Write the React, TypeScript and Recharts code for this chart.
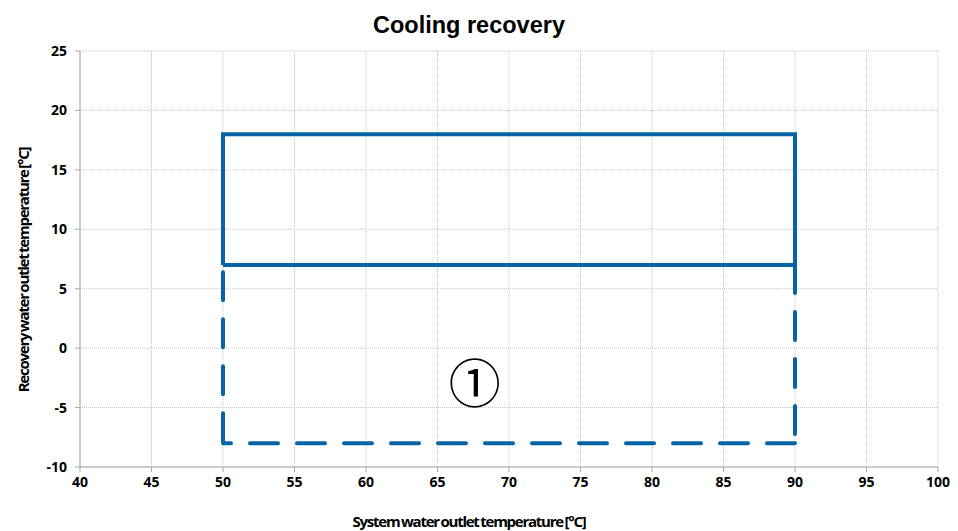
import React from 'react';
import { LineChart, Line, XAxis, YAxis, CartesianGrid, ReferenceDot } from 'recharts';

const xTicks = [40, 45, 50, 55, 60, 65, 70, 75, 80, 85, 90, 95, 100];
const yTicks = [-10, -5, 0, 5, 10, 15, 20, 25];

const solidEnvelope = [
  { x: 50, y: 7 },
  { x: 50, y: 18 },
  { x: 90, y: 18 },
  { x: 90, y: 7 },
  { x: 50, y: 7 },
];

const dashedLeft = [
  { x: 50, y: 7 },
  { x: 50, y: -8 },
];
const dashedBottom = [
  { x: 50, y: -8 },
  { x: 90, y: -8 },
];
const dashedRight = [
  { x: 90, y: 7 },
  { x: 90, y: -8 },
];

const zoneLabel = { x: 67.6, y: -2.7, text: '①' };

const BLUE = '#0563a6';
const tickStyle = { fontFamily: '"Open Sans", sans-serif', fontWeight: 700, fontSize: 14, fill: '#000' };
const axisLabelStyle = {
  fontFamily: '"Open Sans", sans-serif',
  fontWeight: 700,
  fontSize: 15,
  fill: '#000',
  letterSpacing: -1.25,
  wordSpacing: -1,
};

const ZoneLabel = (props: any) => {
  const { cx, cy } = props;
  return (
    <text x={cx} y={cy} textAnchor="middle" dominantBaseline="central" fontFamily='"Noto Sans CJK JP", sans-serif' fontSize={52} fill="#000">
      {zoneLabel.text}
    </text>
  );
};

const dashedProps = {
  dataKey: 'y',
  stroke: BLUE,
  strokeWidth: 4,
  strokeDasharray: '28 19',
  strokeLinecap: 'round' as const,
  dot: false,
  activeDot: false,
  type: 'linear' as const,
  isAnimationActive: false,
};

export default function App() {
  return (
    <div style={{ position: 'absolute', left: 0, top: 0, width: 958, height: 531, background: '#fff' }}>
      <div
        style={{
          position: 'absolute',
          left: 0,
          width: 938,
          top: 10,
          textAlign: 'center',
          fontFamily: '"Liberation Sans", Arial, sans-serif',
          fontWeight: 700,
          fontSize: 23.5,
          color: '#000',
          lineHeight: '30px',
        }}
      >
        Cooling recovery
      </div>
      <LineChart width={958} height={531} margin={{ top: 51, right: 20, bottom: 0, left: 0 }}>
        <CartesianGrid stroke="#c4c4c4" strokeDasharray="1 1" />
        <XAxis
          type="number"
          dataKey="x"
          domain={[40, 100]}
          ticks={xTicks}
          allowDuplicatedCategory={false}
          height={64}
          tickSize={5}
          tickMargin={5}
          stroke="#a6a6a6"
          tick={tickStyle}
          label={{
            value: 'System water outlet temperature [°C]',
            position: 'insideBottom',
            offset: 4,
            dx: -40,
            style: axisLabelStyle,
          }}
        />
        <YAxis
          type="number"
          dataKey="y"
          domain={[-10, 25]}
          ticks={yTicks}
          width={80}
          tickSize={5}
          tickMargin={8}
          stroke="#a6a6a6"
          tick={tickStyle}
          label={{
            value: 'Recovery water outlet temperature [°C]',
            angle: -90,
            position: 'insideLeft',
            offset: 24,
            dy: 11,
            style: { ...axisLabelStyle, textAnchor: 'middle' },
          }}
        />
        <Line data={dashedLeft} {...dashedProps} strokeDashoffset={39.7} />
        <Line data={dashedBottom} {...dashedProps} strokeDashoffset={20} />
        <Line data={dashedRight} {...dashedProps} strokeDashoffset={0} />
        <Line
          data={solidEnvelope}
          dataKey="y"
          stroke={BLUE}
          strokeWidth={4}
          dot={false}
          activeDot={false}
          type="linear"
          isAnimationActive={false}
        />
        <ReferenceDot x={zoneLabel.x} y={zoneLabel.y} r={0} shape={ZoneLabel} />
      </LineChart>
    </div>
  );
}
